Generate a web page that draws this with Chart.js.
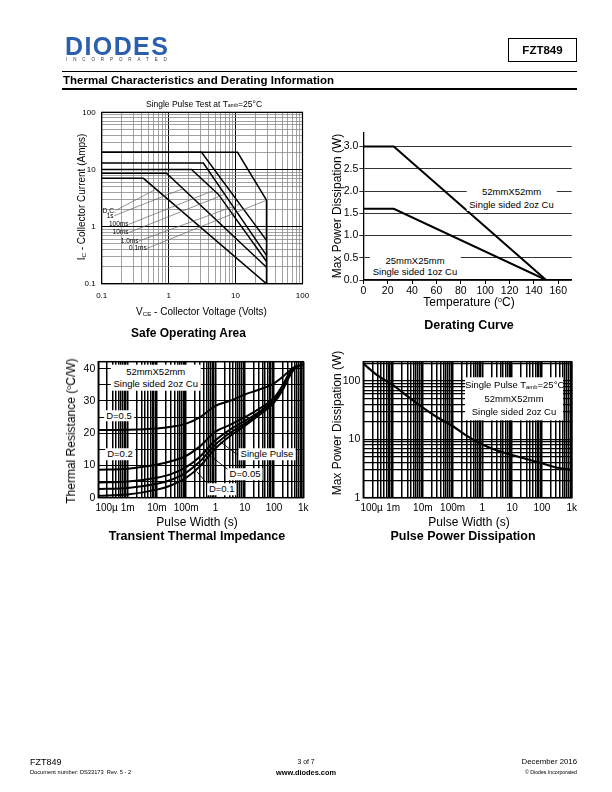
<!DOCTYPE html>
<html><head><meta charset="utf-8">
<script src="https://cdn.jsdelivr.net/npm/chart.js@4.4.1/dist/chart.umd.min.js"></script>
<style>
body{margin:0;background:#fff;}
#page{position:relative;width:612px;height:792px;overflow:hidden;font-family:"Liberation Sans",Arial,sans-serif;color:#000;background:#fff;}
canvas.c{position:absolute;left:0;top:0;}
.t{position:absolute;white-space:nowrap;line-height:1;}
.ctr{transform:translate(-50%,-50%);text-align:center;}
.rgt{transform:translate(-100%,-50%);}
.rot{transform:translate(-50%,-50%) rotate(-90deg);}
.wb{background:#fff;}
.hl{position:absolute;background:#000;}
sub.s{font-size:0.62em;vertical-align:baseline;position:relative;top:0.15em;}
sup.o{font-size:0.6em;vertical-align:baseline;position:relative;top:-0.55em;}
</style></head>
<body>
<div id="page">
<canvas class="c" id="soa" width="612" height="792"></canvas>
<canvas class="c" id="der" width="612" height="792"></canvas>
<canvas class="c" id="tti" width="612" height="792"></canvas>
<canvas class="c" id="ppd" width="612" height="792"></canvas>

<!-- header -->
<div class="t" style="left:65px;top:33.5px;font-size:25px;font-weight:bold;letter-spacing:1.4px;color:#2b5fae;">DIODES</div>
<div class="t" style="left:66px;top:58px;font-size:4.5px;letter-spacing:5.9px;color:#333;">INCORPORATED</div>
<div class="t" style="left:508px;top:38px;width:67px;height:22px;border:1px solid #000;font-size:11.5px;font-weight:bold;line-height:22px;text-align:center;">FZT849</div>
<div class="hl" style="left:62px;top:71px;width:515px;height:1px;"></div>
<div class="t" style="left:63px;top:74.5px;font-size:11.5px;font-weight:bold;">Thermal Characteristics and Derating Information</div>
<div class="hl" style="left:62px;top:87.5px;width:515px;height:2.5px;"></div>

<!-- SOA texts -->
<div class="t ctr" style="left:204px;top:103.5px;font-size:8.5px;">Single Pulse Test at T<sub class="s">amb</sub>=25°C</div>
<div class="t rot" style="left:82px;top:197px;font-size:10px;">I<sub class="s">C</sub> - Collector Current (Amps)</div>
<div class="t ctr" style="left:201.5px;top:312px;font-size:10px;">V<sub class="s">CE</sub> - Collector Voltage (Volts)</div>
<div class="t ctr" style="left:188.5px;top:332.5px;font-size:12px;font-weight:bold;">Safe Operating Area</div>
<div class="t rgt" style="left:115.7px;top:210.7px;font-size:6.5px;">D.C.</div>
<div class="t rgt" style="left:113.5px;top:216px;font-size:6.5px;">1s</div>
<div class="t rgt" style="left:128.5px;top:224.3px;font-size:6.5px;">100ms</div>
<div class="t rgt" style="left:128.5px;top:232.3px;font-size:6.5px;">10ms</div>
<div class="t rgt" style="left:138.5px;top:240.7px;font-size:6.5px;">1.0ms</div>
<div class="t rgt" style="left:146.7px;top:248.3px;font-size:6.5px;">0.1ms</div>

<!-- Derating texts -->
<div class="t rot" style="left:337px;top:206px;font-size:12px;">Max Power Dissipation (W)</div>
<div class="t ctr" style="left:469px;top:301.5px;font-size:12px;">Temperature (<sup class="o">o</sup>C)</div>
<div class="t ctr" style="left:469px;top:325px;font-size:12.5px;font-weight:bold;">Derating Curve</div>
<div class="t ctr wb" style="left:511.5px;top:197.5px;font-size:9.5px;line-height:13px;padding:0 3px;">52mmX52mm<br>Single sided 2oz Cu</div>
<div class="t ctr wb" style="left:415px;top:266px;font-size:9.5px;line-height:11px;padding:0 3px;">25mmX25mm<br>Single sided 1oz Cu</div>

<!-- Transient texts -->
<div class="t rot" style="left:71px;top:431px;font-size:12px;">Thermal Resistance (<sup class="o">o</sup>C/W)</div>
<div class="t ctr" style="left:197px;top:522px;font-size:12px;">Pulse Width (s)</div>
<div class="t ctr" style="left:197px;top:536px;font-size:12.5px;font-weight:bold;">Transient Thermal Impedance</div>
<div class="t ctr wb" style="left:155.7px;top:377.5px;font-size:9.5px;line-height:12.3px;padding:1px 3px;">52mmX52mm<br>Single sided 2oz Cu</div>
<div class="t ctr wb" style="left:119px;top:415.7px;font-size:9.5px;padding:1px 2px;">D=0.5</div>
<div class="t ctr wb" style="left:120px;top:454px;font-size:9.5px;padding:1px 2px;">D=0.2</div>
<div class="t ctr wb" style="left:267px;top:454.3px;font-size:9.5px;padding:1px 2px;">Single Pulse</div>
<div class="t ctr wb" style="left:245px;top:474.3px;font-size:9.5px;padding:1px 2px;">D=0.05</div>
<div class="t ctr wb" style="left:221.7px;top:489.3px;font-size:9.5px;padding:1px 2px;">D=0.1</div>

<!-- Pulse texts -->
<div class="t rot" style="left:337px;top:423px;font-size:12px;">Max Power Dissipation (W)</div>
<div class="t ctr" style="left:469px;top:522px;font-size:12px;">Pulse Width (s)</div>
<div class="t ctr" style="left:463px;top:536px;font-size:12.5px;font-weight:bold;">Pulse Power Dissipation</div>
<div class="t ctr wb" style="left:514px;top:399px;width:98px;font-size:9.5px;line-height:12.8px;padding:2px 0;">Single Pulse T<sub class="s">amb</sub>=25°C<br>52mmX52mm<br>Single sided 2oz Cu</div>

<!-- footer -->
<div class="t" style="left:30px;top:758px;font-size:9px;">FZT849</div>
<div class="t" style="left:30px;top:769.5px;font-size:5.7px;">Document number: DS33173&nbsp; Rev. 5 - 2</div>
<div class="t ctr" style="left:306px;top:762px;font-size:6.8px;">3 of 7</div>
<div class="t ctr" style="left:306px;top:772.5px;font-size:7.4px;font-weight:bold;">www.diodes.com</div>
<div class="t" style="right:35px;top:758px;font-size:7.8px;">December 2016</div>
<div class="t" style="right:35px;top:769.5px;font-size:5.2px;">© Diodes Incorporated</div>
</div>

<script>
// ================= DATA =================
// Safe Operating Area (Vce in V, Ic in A)
const soaDecades = [0.1, 1, 10, 100];
const soaTickLabels = ['0.1', '1', '10', '100'];
const soaV_0p1ms = [0.1, 10.7, 29, 29];
const soaI_0p1ms = [20, 20, 2.9, 0.1];
const soaV_1ms = [0.1, 3.1, 29];
const soaI_1ms = [20, 20, 0.575];
const soaV_10ms = [0.1, 3.3, 29];
const soaI_10ms = [13, 13, 0.314];
const soaV_100ms = [0.1, 2.2, 5.5, 29];
const soaI_100ms = [10, 10, 3.7, 0.246];
const soaV_1s = [0.1, 0.93, 29];
const soaI_1s = [8.6, 8.6, 0.195];
const soaV_dc = [0.1, 0.42, 29];
const soaI_dc = [7, 7, 0.1];
// label leader lines (start at label, end on curve)
const soaLeadV_dc = [0.163, 0.645];   const soaLeadI_dc = [1.93, 4.5];
const soaLeadV_1s = [0.153, 1.63];    const soaLeadI_1s = [1.55, 4.6];
const soaLeadV_100ms = [0.255, 4.74]; const soaLeadI_100ms = [1.1, 4.3];
const soaLeadV_10ms = [0.255, 6.9];   const soaLeadI_10ms = [0.79, 3.69];
const soaLeadV_1ms = [0.36, 11.6];    const soaLeadI_1ms = [0.56, 2.48];
const soaLeadV_0p1ms = [0.474, 29];   const soaLeadI_0p1ms = [0.416, 2.9];

// Derating curve
const derTemp = [0, 25, 150];
const derP_52mm = [3.0, 3.0, 0];
const derP_25mm = [1.6, 1.6, 0];
const derXTicks = [0, 20, 40, 60, 80, 100, 120, 140, 160];
const derYTicks = [0, 0.5, 1.0, 1.5, 2.0, 2.5, 3.0];
const derYLabels = ['0.0', '0.5', '1.0', '1.5', '2.0', '2.5', '3.0'];

// Pulse width axis (shared by transient & pulse power charts)
const pwDecades = [1e-4, 1e-3, 1e-2, 1e-1, 1, 10, 100, 1000];
const pwLabels = ['100µ', '1m', '10m', '100m', '1', '10', '100', '1k'];

// Transient thermal impedance (°C/W)
const tiPulse = [1e-4, 1e-3, 1e-2, 0.03, 0.1, 0.3, 1, 3, 10, 30, 100, 200, 300, 500, 1000];
const tiD050 = [21.0, 21.1, 21.5, 22.0, 23.0, 25.0, 28.5, 30.0, 32.0, 33.5, 35.5, 37.5, 39.0, 40.5, 41.3];
const tiD020 = [8.7, 9.0, 10.3, 11.3, 13.0, 16.0, 20.5, 22.5, 25.0, 27.5, 31.0, 35.0, 38.0, 40.5, 41.3];
const tiD010 = [4.7, 5.0, 6.2, 7.3, 9.5, 12.8, 17.8, 21.0, 23.8, 26.5, 30.5, 34.5, 37.5, 40.3, 41.3];
const tiD005 = [2.7, 3.0, 4.3, 5.5, 7.8, 11.3, 16.5, 20.0, 23.0, 26.0, 30.0, 34.0, 37.0, 40.2, 41.3];
const tiSingle = [0.6, 1.0, 2.5, 3.8, 6.2, 9.8, 15.3, 19.0, 22.3, 25.5, 29.5, 33.5, 36.8, 40.0, 41.3];
const tiYTicks = [0, 5, 10, 15, 20, 25, 30, 35, 40];
const tiYLabelled = [0, 10, 20, 30, 40];
const tiLeadX_sp = [5.3, 1.43];   const tiLeadY_sp = [13.5, 17.4];
const tiLeadX_d005 = [3.3, 0.74]; const tiLeadY_d005 = [8.1, 12.7];
const tiLeadX_d01 = [0.65, 0.23]; const tiLeadY_d01 = [3.4, 8.1];

// Pulse power dissipation (W)
const ppPulse = [1e-4, 3e-4, 1e-3, 3e-3, 1e-2, 3e-2, 0.1, 0.3, 1, 3, 10, 30, 100, 300, 1000];
const ppPower = [200, 125, 85, 55, 35, 24, 17, 11.5, 8.2, 6.5, 5.4, 4.6, 3.9, 3.3, 3.0];
const ppDecades = [1, 10, 100];
const ppLabels = ['1', '10', '100'];

// ================= HELPERS =================
const FAM = '"Liberation Sans", Arial, sans-serif';
function pts(xs, ys) { return xs.map((x, i) => ({ x: x, y: ys[i] })); }
function logTicks(min, max) {
  const out = [];
  for (let e = Math.floor(Math.log10(min)); e <= Math.ceil(Math.log10(max)); e++) {
    for (let k = 1; k < 10; k++) {
      const v = parseFloat((k * Math.pow(10, e)).toPrecision(6));
      if (v >= min * 0.9999 && v <= max * 1.0001) out.push(v);
    }
  }
  return out;
}
function isDec(v) { const l = Math.log10(v); return Math.abs(l - Math.round(l)) < 1e-6; }
function lookup(v, vals, labels) {
  for (let i = 0; i < vals.length; i++) if (Math.abs(vals[i] - v) <= Math.abs(vals[i]) * 1e-6 + 1e-12) return labels[i];
  return '';
}
function line(data, w, color, extra) {
  return Object.assign({ data: data, showLine: true, borderColor: color || '#000', borderWidth: w, pointRadius: 0, fill: false, tension: 0 }, extra || {});
}
const framePlugin = {
  id: 'frame',
  afterDatasetsDraw(chart, args, opts) {
    if (!opts || !opts.on) return;
    const a = chart.chartArea, ctx = chart.ctx;
    ctx.save(); ctx.strokeStyle = '#000'; ctx.lineWidth = opts.w || 1;
    ctx.strokeRect(a.left, a.top, a.right - a.left, a.bottom - a.top);
    ctx.restore();
  }
};
function mk(id, area, xs, ys, datasets, frameW) {
  xs.afterFit = s => { s.height = 792 - area.b; };
  ys.afterFit = s => { s.width = area.l; };
  return new Chart(document.getElementById(id), {
    type: 'scatter',
    data: { datasets: datasets },
    plugins: [framePlugin],
    options: {
      responsive: false, animation: false, devicePixelRatio: 1,
      layout: { padding: { left: 0, top: area.t, right: 612 - area.r, bottom: 0 } },
      plugins: { legend: { display: false }, tooltip: { enabled: false }, frame: { on: !!frameW, w: frameW } },
      scales: { x: xs, y: ys }
    }
  });
}

// ================= SOA =================
const soaLead = '#666';
const soaGrid = {
  color: c => (c.tick && isDec(c.tick.value)) ? '#000' : '#8a8a8a',
  lineWidth: c => (c.tick && isDec(c.tick.value)) ? 1 : 0.8, drawTicks: false
};
mk('soa', { l: 101.7, t: 112.3, r: 302.5, b: 283.8 },
  {
    type: 'logarithmic', min: 0.1, max: 100,
    afterBuildTicks: s => { s.ticks = logTicks(0.1, 100).map(v => ({ value: v })); },
    grid: soaGrid, border: { display: false },
    ticks: { autoSkip: false, maxRotation: 0, minRotation: 0, padding: 7, color: '#000', font: { size: 8, family: FAM },
      callback: v => lookup(v, soaDecades, soaTickLabels) }
  },
  {
    type: 'logarithmic', min: 0.1, max: 100,
    afterBuildTicks: s => { s.ticks = logTicks(0.1, 100).map(v => ({ value: v })); },
    grid: soaGrid, border: { display: false },
    ticks: { autoSkip: false, padding: 6, color: '#000', font: { size: 8, family: FAM },
      callback: v => lookup(v, soaDecades, soaTickLabels) }
  },
  [
    line(pts(soaLeadV_dc, soaLeadI_dc), 0.7, soaLead),
    line(pts(soaLeadV_1s, soaLeadI_1s), 0.7, soaLead),
    line(pts(soaLeadV_100ms, soaLeadI_100ms), 0.7, soaLead),
    line(pts(soaLeadV_10ms, soaLeadI_10ms), 0.7, soaLead),
    line(pts(soaLeadV_1ms, soaLeadI_1ms), 0.7, soaLead),
    line(pts(soaLeadV_0p1ms, soaLeadI_0p1ms), 0.7, soaLead),
    line(pts(soaV_0p1ms, soaI_0p1ms), 1.5),
    line(pts(soaV_1ms, soaI_1ms), 1.5),
    line(pts(soaV_10ms, soaI_10ms), 1.5),
    line(pts(soaV_100ms, soaI_100ms), 1.5),
    line(pts(soaV_1s, soaI_1s), 1.5),
    line(pts(soaV_dc, soaI_dc), 1.5)
  ], 1.2);

// ================= DERATING =================
mk('der', { l: 363.3, t: 132.3, r: 571.7, b: 280 },
  {
    type: 'linear', min: 0, max: 171,
    afterBuildTicks: s => { s.ticks = derXTicks.map(v => ({ value: v })); },
    grid: { drawOnChartArea: false, drawTicks: true, tickLength: 4, color: '#000' },
    border: { color: '#000', width: 1.3 },
    ticks: { autoSkip: false, maxRotation: 0, padding: 1, color: '#000', font: { size: 10.5, family: FAM } }
  },
  {
    type: 'linear', min: 0, max: 3.32,
    afterBuildTicks: s => { s.ticks = derYTicks.map(v => ({ value: v })); },
    grid: { color: '#000', lineWidth: 0.8, drawTicks: true, tickLength: 4 },
    border: { color: '#000', width: 1.3 },
    ticks: { autoSkip: false, padding: 1, color: '#000', font: { size: 10.5, family: FAM },
      callback: v => lookup(v, derYTicks, derYLabels) }
  },
  [
    line(pts(derTemp, derP_52mm), 2),
    line(pts(derTemp, derP_25mm), 2)
  ], 0);

// ================= TRANSIENT THERMAL IMPEDANCE =================
function pwLabel(v) {
  const s = lookup(v, pwDecades, pwLabels);
  return (s === pwLabels[0]) ? '\u2007\u2007\u2007' + s : s;
}
const pwX = (w) => ({
  type: 'logarithmic', min: 1e-4, max: 1000,
  afterBuildTicks: s => { s.ticks = logTicks(1e-4, 1000).map(v => ({ value: v })); },
  grid: { color: '#000', lineWidth: w, drawTicks: false },
  border: { display: false },
  ticks: { autoSkip: false, maxRotation: 0, minRotation: 0, padding: 5, color: '#000', font: { size: 10, family: FAM },
    callback: v => pwLabel(v) }
});
mk('tti', { l: 98.3, t: 361.7, r: 303.3, b: 497.7 },
  pwX(1.5),
  {
    type: 'linear', min: 0, max: 42.2,
    afterBuildTicks: s => { s.ticks = tiYTicks.map(v => ({ value: v })); },
    grid: { color: '#000', lineWidth: 1.1, drawTicks: false },
    border: { display: false },
    ticks: { autoSkip: false, padding: 3, color: '#000', font: { size: 10.5, family: FAM },
      callback: v => tiYLabelled.indexOf(v) >= 0 ? String(v) : '' }
  },
  [
    line(pts(tiLeadX_sp, tiLeadY_sp), 0.9),
    line(pts(tiLeadX_d005, tiLeadY_d005), 0.9),
    line(pts(tiLeadX_d01, tiLeadY_d01), 0.9),
    line(pts(tiPulse, tiD050), 2, '#000', { cubicInterpolationMode: 'monotone' }),
    line(pts(tiPulse, tiD020), 2, '#000', { cubicInterpolationMode: 'monotone' }),
    line(pts(tiPulse, tiD010), 2, '#000', { cubicInterpolationMode: 'monotone' }),
    line(pts(tiPulse, tiD005), 2, '#000', { cubicInterpolationMode: 'monotone' }),
    line(pts(tiPulse, tiSingle), 2, '#000', { cubicInterpolationMode: 'monotone' })
  ], 1.5);

// ================= PULSE POWER DISSIPATION =================
mk('ppd', { l: 363.3, t: 361.7, r: 571.7, b: 497.7 },
  pwX(1.5),
  {
    type: 'logarithmic', min: 1, max: 215,
    afterBuildTicks: s => { s.ticks = logTicks(1, 215).map(v => ({ value: v })); },
    grid: { color: '#000', lineWidth: 1.2, drawTicks: false },
    border: { display: false },
    ticks: { autoSkip: false, padding: 3, color: '#000', font: { size: 10.5, family: FAM },
      callback: v => lookup(v, ppDecades, ppLabels) }
  },
  [
    line(pts(ppPulse, ppPower), 2.2, '#000', { cubicInterpolationMode: 'monotone' })
  ], 1.5);
</script>
</body></html>
